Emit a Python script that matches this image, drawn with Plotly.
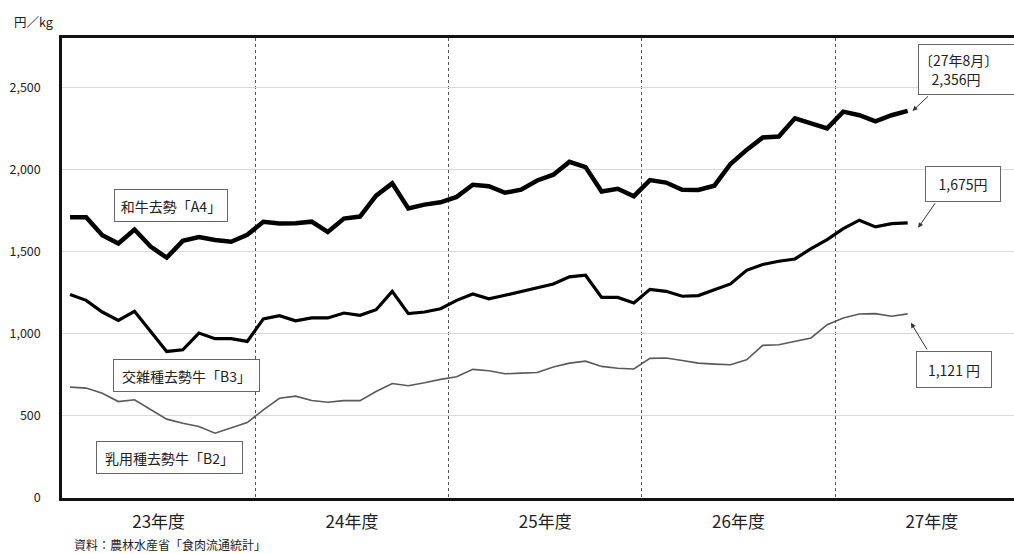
import plotly.graph_objects as go

# ---- data (monthly, FY23 Apr .. FY27 Aug) ----
fiscal_years = ["23年度", "24年度", "25年度", "26年度", "27年度"]
months_per_year = [12, 12, 12, 12, 5]

wagyu_a4 = [1709, 1709, 1600, 1549, 1634, 1530, 1463, 1565, 1588, 1570, 1560, 1602,
            1681, 1671, 1673, 1682, 1620, 1701, 1713, 1840, 1915, 1762, 1786, 1800,
            1833, 1907, 1898, 1858, 1877, 1933, 1968, 2046, 2014, 1866, 1882, 1837,
            1935, 1920, 1876, 1875, 1901, 2033, 2119, 2194, 2200, 2311, 2280, 2250,
            2352, 2330, 2293, 2330, 2356]
kosatsu_b3 = [1238, 1203, 1132, 1081, 1136, 1014, 892, 902, 1004, 970, 970, 953,
              1090, 1110, 1079, 1096, 1096, 1126, 1112, 1146, 1258, 1122, 1132, 1152,
              1203, 1242, 1212, 1234, 1258, 1282, 1303, 1346, 1356, 1221, 1221, 1187,
              1270, 1258, 1228, 1232, 1268, 1303, 1386, 1421, 1441, 1455, 1518, 1573,
              1640, 1691, 1650, 1670, 1675]
nyuyo_b2 = [675, 669, 638, 587, 598, 537, 480, 455, 435, 394, 425, 459,
            537, 607, 620, 593, 583, 593, 593, 648, 697, 683, 701, 722,
            738, 783, 775, 756, 760, 764, 797, 821, 833, 801, 790, 785,
            850, 852, 837, 821, 815, 811, 841, 929, 933, 953, 974, 1055,
            1096, 1120, 1122, 1106, 1121]

series_names = ["和牛去勢「A4」", "交雑種去勢牛「B3」", "乳用種去勢牛「B2」"]
end_labels = ["〔27年8月〕<br>\u00a0\u00a0\u00a0\u00a02,356円", "1,675円", "1,121 円"]
y_ticks = [0, 500, 1000, 1500, 2000, 2500]
source_text = "資料：農林水産省「食肉流通統計」"
unit_text = "円／kg"

# ---- derived ----
n = len(wagyu_a4)
x = list(range(n))
year_centers = [12 * k + 5.5 for k in range(len(fiscal_years))]
year_bounds = [12 * k - 0.5 for k in range(1, len(fiscal_years))]

FONT = "Noto Sans CJK JP, sans-serif"
W, H = 1014, 554
L, R, T, B = 62, 0, 38, 56
PW, PH = W - L - R, H - T - B


def px(v):
    return (v - L) / PW


def py(v):
    return (H - B - v) / PH


fig = go.Figure()
fig.add_trace(go.Scatter(x=x, y=nyuyo_b2, mode="lines", name=series_names[2],
                         line=dict(color="#5a5a5a", width=1.6)))
fig.add_trace(go.Scatter(x=x, y=kosatsu_b3, mode="lines", name=series_names[1],
                         line=dict(color="#000000", width=3.2)))
fig.add_trace(go.Scatter(x=x, y=wagyu_a4, mode="lines", name=series_names[0],
                         line=dict(color="#000000", width=4.5)))

annotations = []
# series name boxes
box_specs = [
    (series_names[0], 171, 205, 112, 31),
    (series_names[1], 186.7, 375, 145, 31),
    (series_names[2], 169, 457, 145, 31),
]
for text, cx, cy, w, h in box_specs:
    annotations.append(dict(text=text, xref="paper", yref="paper", x=px(cx), y=py(cy),
                            xanchor="center", yanchor="middle", showarrow=False,
                            width=w, height=h, borderpad=0, borderwidth=1,
                            bordercolor="#666", bgcolor="white",
                            font=dict(family=FONT, size=14, color="#222")))

# end value boxes
annotations.append(dict(text=end_labels[0], xref="paper", yref="paper", x=px(917.7), y=py(43.6),
                        xanchor="left", yanchor="top", showarrow=False, align="left",
                        width=104, height=49, borderpad=0, borderwidth=1,
                        bordercolor="#666", bgcolor="white",
                        font=dict(family=FONT, size=14, color="#222")))
annotations.append(dict(text=end_labels[1], xref="paper", yref="paper", x=px(963), y=py(183.8),
                        xanchor="center", yanchor="middle", showarrow=False,
                        width=74, height=34, borderpad=0, borderwidth=1,
                        bordercolor="#666", bgcolor="white",
                        font=dict(family=FONT, size=14, color="#222")))
annotations.append(dict(text=end_labels[2], xref="paper", yref="paper", x=px(953.5), y=py(369.2),
                        xanchor="center", yanchor="middle", showarrow=False,
                        width=74, height=35, borderpad=0, borderwidth=1,
                        bordercolor="#666", bgcolor="white",
                        font=dict(family=FONT, size=14, color="#222")))

# arrows pointing to last values
arrow_specs = [
    (n - 1 + 0.3, wagyu_a4[-1], 17, -16),
    (n - 1 + 0.65, kosatsu_b3[-1] - 30, 18, -26),
    (n - 1 + 0.2, nyuyo_b2[-1] - 55, 17, 28),
]
for ax_x, ax_y, dx, dy in arrow_specs:
    annotations.append(dict(text="", x=ax_x, y=ax_y, xref="x", yref="y",
                            showarrow=True, ax=dx, ay=dy, arrowhead=2, arrowsize=1,
                            arrowwidth=1, arrowcolor="#333", standoff=0, startstandoff=0))

# unit and source
annotations.append(dict(text=unit_text, xref="paper", yref="paper", x=px(12), y=py(22),
                        xanchor="left", yanchor="middle", showarrow=False,
                        font=dict(family=FONT, size=12.5, color="#222")))
annotations.append(dict(text=source_text, xref="paper", yref="paper", x=px(72), y=py(544),
                        xanchor="left", yanchor="middle", showarrow=False,
                        font=dict(family=FONT, size=12, color="#222")))

fig.update_layout(
    width=W, height=H,
    margin=dict(l=L, r=R, t=T, b=B, pad=0),
    paper_bgcolor="white", plot_bgcolor="white",
    showlegend=False,
    font=dict(family=FONT, color="#222"),
    annotations=annotations,
    xaxis=dict(
        range=[-0.5, 58.6], showgrid=False, zeroline=False,
        showline=True, linecolor="#111", linewidth=2.5, mirror=True,
        tickmode="array", tickvals=year_centers, ticktext=fiscal_years,
        ticks="", ticklabelstandoff=7,
        tickfont=dict(family=FONT, size=17, color="#222"),
        minor=dict(tickmode="array", tickvals=year_bounds, showgrid=True,
                   gridcolor="#555", gridwidth=1, griddash="dot", ticks=""),
    ),
    yaxis=dict(
        range=[0, 2800], zeroline=False,
        showline=True, linecolor="#111", linewidth=2.5, mirror=False,
        tickmode="array", tickvals=y_ticks, tickformat=",d",
        showgrid=True, gridcolor="#d9d9d9", gridwidth=1,
        ticks="", ticklabelstandoff=16,
        tickfont=dict(family=FONT, size=12.5, color="#222"),
    ),
)

fig.write_html("out.html")
